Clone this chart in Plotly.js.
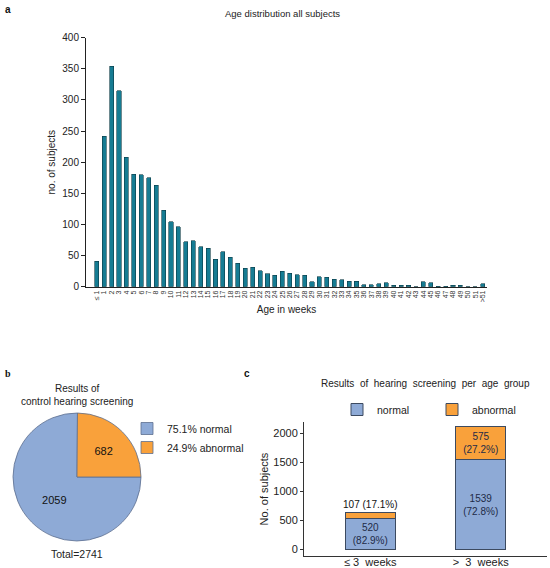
<!DOCTYPE html>
<html>
<head>
<meta charset="utf-8">
<script src="https://cdn.plot.ly/plotly-3.0.1.min.js"></script>
<style>
html,body{margin:0;padding:0;background:#fff;}
#chart{width:550px;height:568px;}
</style>
</head>
<body>
<div id="chart"></div>
<script>
// ---- Data ----
var ageLabels = ['≤ 1','1','2','3','4','5','6','7','8','9','10','11','12','13','14','15','16','17','18','19','20',
  '21','22','23','24','25','26','27','28','29','30','31','32','33','34','35','36','37','38','39','40',
  '41','42','43','44','45','46','47','48','49','50','51','>51'];
var ageCounts = [41,242,354,315,208,181,180,175,163,123,104,96,72,74,64,62,44,56,47,38,30,
  31,26,21,18,25,22,19,18,8,16,15,12,11,9,9,3,3,5,6,2,
  2,2,0,8,6,1,1,2,2,0,0,5];

var pieLabels = ['75.1% normal','24.9% abnormal'];
var pieValues = [2059, 682];
var pieTotal = 2741;

var groupLabels = ['≤ 3  weeks','>  3  weeks'];
var normalCounts = [520, 1539];
var normalPct = [82.9, 72.8];
var abnormalCounts = [107, 575];
var abnormalPct = [17.1, 27.2];

// ---- Styles ----
var FONT = 'Liberation Sans, Arial, sans-serif';
var blue = '#8eaad6';
var orange = '#f9a13b';
var teal = '#167c93';

var normalText = normalCounts.map(function(v,i){ return v + '<br>(' + normalPct[i].toFixed(1) + '%)'; });
var abnormalPos = ['outside','inside'];
var abnormalText = abnormalCounts.map(function(v,i){
  return abnormalPos[i] === 'outside' ? (v + ' (' + abnormalPct[i].toFixed(1) + '%)') : (v + '<br>(' + abnormalPct[i].toFixed(1) + '%)');
});

var traces = [
  {
    type:'bar', x: ageLabels, y: ageCounts, xaxis:'x', yaxis:'y',
    marker:{color: teal, line:{color:'#0c3a45', width:0.6}},
    width:0.55, showlegend:false, hoverinfo:'x+y'
  },
  {
    type:'pie', labels: pieLabels, values: pieValues, sort:false, direction:'counterclockwise', rotation:90,
    domain:{x:[13/550, 141/550], y:[1-541/568, 1-413/568]},
    marker:{colors:[blue, orange], line:{color:'#5d6f8f', width:0.8}},
    textinfo:'value', textposition:'inside', insidetextorientation:'horizontal',
    textfont:{family:FONT, size:11, color:'#111'},
    legend:'legend', showlegend:true
  },
  {
    type:'bar', name:'normal', x: groupLabels, y: normalCounts, xaxis:'x2', yaxis:'y2',
    marker:{color: blue, line:{color:'#3c4a60', width:1}},
    width:0.45, text: normalText, textposition:'inside', insidetextanchor:'middle',
    textfont:{family:FONT, size:10, color:'#1e2b47'}, constraintext:'none',
    legend:'legend2'
  },
  {
    type:'bar', name:'abnormal', x: groupLabels, y: abnormalCounts, xaxis:'x2', yaxis:'y2',
    marker:{color: orange, line:{color:'#3c4a60', width:1}},
    width:0.45, text: abnormalText, textposition: abnormalPos, insidetextanchor:'middle',
    insidetextfont:{family:FONT, size:10, color:'#1e2b47'},
    outsidetextfont:{family:FONT, size:10, color:'#111'}, constraintext:'none', cliponaxis:false,
    legend:'legend2'
  }
];

var layout = {
  width:550, height:568,
  margin:{l:0, r:0, t:0, b:0},
  paper_bgcolor:'#fff', plot_bgcolor:'#fff',
  font:{family:FONT, color:'#222', size:10},
  barmode:'stack',
  bargap:0,
  xaxis:{
    domain:[86/550, 487/550], anchor:'y', type:'category',
    range:[-1.45, 52.58], showline:true, linecolor:'#222', linewidth:1,
    tickmode:'array', tickvals: ageLabels, ticktext: ageLabels,
    ticks:'', tickangle:-90, tickfont:{size:7, color:'#333'}, showgrid:false, zeroline:false,
    title:{text:'Age in weeks', font:{size:10, color:'#222'}, standoff:4}
  },
  yaxis:{
    domain:[1-286.7/568, 1-37.7/568], anchor:'x',
    range:[0,400], dtick:50, showline:true, linecolor:'#222', linewidth:1,
    ticks:'outside', ticklen:4, tickcolor:'#222', tickfont:{size:10, color:'#222'},
    showgrid:false, zeroline:false,
    title:{text:'no. of subjects', font:{size:10, color:'#222'}, standoff:4}
  },
  xaxis2:{
    domain:[304/550, 547/550], anchor:'y2', type:'category',
    range:[-0.6, 1.6], showline:true, linecolor:'#333', linewidth:1,
    ticks:'', tickfont:{size:11, color:'#222'}, ticklabelstandoff:-4, showgrid:false, zeroline:false
  },
  yaxis2:{
    domain:[1-556/568, 1-422/568], anchor:'x2',
    range:[-120, 2195], tickvals:[0,500,1000,1500,2000], showline:true, linecolor:'#333', linewidth:1,
    ticks:'outside', ticklen:3, tickcolor:'#333', tickfont:{size:11, color:'#222'},
    showgrid:false, zeroline:false,
    title:{text:'No. of subjects', font:{size:11, color:'#222'}, standoff:2}
  },
  legend:{
    x:127/550, y:1-414/568, xanchor:'left', yanchor:'top', orientation:'v', traceorder:'normal',
    font:{size:10.5, color:'#222'}, bgcolor:'rgba(0,0,0,0)', itemwidth:30, tracegroupgap:0
  },
  legend2:{
    x:432/550, y:1-395/568, xanchor:'center', yanchor:'top', orientation:'h', traceorder:'normal',
    font:{size:10.5, color:'#222'}, bgcolor:'rgba(0,0,0,0)', itemwidth:30,
    entrywidth:50, entrywidthmode:'pixels'
  },
  annotations:[
    {text:'<b>a</b>', x:8/550, y:1-9/568, xref:'paper', yref:'paper', xanchor:'center', yanchor:'middle', showarrow:false, font:{size:10, color:'#111', family:FONT}},
    {text:'Age distribution all subjects', x:282/550, y:1-14/568, xref:'paper', yref:'paper', xanchor:'center', yanchor:'middle', showarrow:false, font:{size:9.5, color:'#222'}},
    {text:'<b>b</b>', x:8/550, y:1-373/568, xref:'paper', yref:'paper', xanchor:'center', yanchor:'middle', showarrow:false, font:{size:10, color:'#111', family:'Liberation Serif, Times New Roman, serif'}},
    {text:'Results of<br>control hearing screening', x:77/550, y:1-395/568, xref:'paper', yref:'paper', xanchor:'center', yanchor:'middle', showarrow:false, font:{size:10, color:'#222'}},
    {text:'Total=' + pieTotal, x:77/550, y:1-554/568, xref:'paper', yref:'paper', xanchor:'center', yanchor:'middle', showarrow:false, font:{size:10.5, color:'#222'}},
    {text:'<b>c</b>', x:247/550, y:1-373/568, xref:'paper', yref:'paper', xanchor:'center', yanchor:'middle', showarrow:false, font:{size:10, color:'#111', family:FONT}},
    {text:'Results  of  hearing  screening  per  age  group', x:425/550, y:1-383/568, xref:'paper', yref:'paper', xanchor:'center', yanchor:'middle', showarrow:false, font:{size:10, color:'#222'}}
  ]
};

Plotly.newPlot('chart', traces, layout, {displayModeBar:false, staticPlot:true});
</script>
</body>
</html>
